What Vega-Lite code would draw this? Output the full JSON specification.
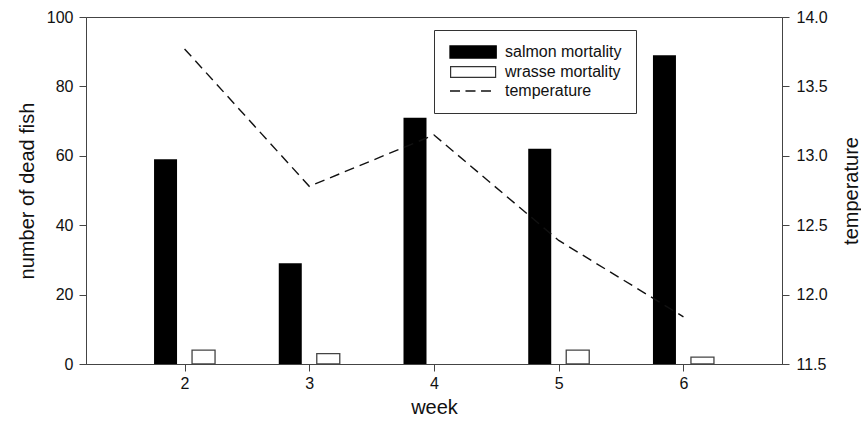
{
  "$schema": "https://vega.github.io/schema/vega-lite/v6.json",
  "width": 696,
  "height": 347,
  "autosize": {"type": "none"},
  "padding": {"left": 86, "top": 17, "right": 79, "bottom": 58},
  "background": "white",
  "config": {
    "font": "Liberation Sans",
    "view": {"stroke": "#444", "strokeWidth": 1},
    "axis": {
      "grid": false,
      "domainColor": "#444",
      "tickColor": "#444",
      "tickSize": 7,
      "labelFontSize": 16,
      "labelColor": "#111",
      "titleFontSize": 20,
      "titleFontWeight": "normal",
      "titleColor": "#111",
      "labelFont": "Liberation Sans",
      "titleFont": "Liberation Sans"
    },
    "legend": {
      "labelFont": "Liberation Sans",
      "labelFontSize": 16,
      "labelColor": "#111"
    }
  },
  "data": {
    "values": [
      {"week": 2, "salmon": 59, "wrasse": 4, "temperature": 13.77},
      {"week": 3, "salmon": 29, "wrasse": 3, "temperature": 12.78},
      {"week": 4, "salmon": 71, "wrasse": null, "temperature": 13.15},
      {"week": 5, "salmon": 62, "wrasse": 4, "temperature": 12.39},
      {"week": 6, "salmon": 89, "wrasse": 2, "temperature": 11.84}
    ]
  },
  "encoding": {
    "x": {
      "field": "week",
      "type": "quantitative",
      "scale": {"domain": [1.25, 6.75], "nice": false, "zero": false},
      "axis": {"values": [2, 3, 4, 5, 6], "format": "d", "title": "week", "labelPadding": 4, "titlePadding": 6}
    }
  },
  "layer": [
    {
      "layer": [
        {
          "mark": {"type": "bar", "width": 23, "xOffset": -19},
          "encoding": {
            "y": {
              "field": "salmon",
              "type": "quantitative",
              "title": "number of dead fish",
              "scale": {"domain": [0, 100], "nice": false},
              "axis": {"values": [0, 20, 40, 60, 80, 100], "labelPadding": 6, "titlePadding": 9}
            },
            "color": {
              "datum": "salmon mortality",
              "type": "nominal",
              "scale": {"domain": ["salmon mortality", "wrasse mortality", "temperature"], "range": ["black", "#333333", "#111111"]},
              "legend": {
                "title": null,
                "orient": "none",
                "legendX": 348,
                "legendY": 13,
                "padding": 14,
                "strokeColor": "#333",
                "fillColor": "white",
                "symbolSize": 144,
                "labelOffset": 41,
                "rowPadding": 3,
                "encode": {
                  "symbols": {
                    "update": {
                      "shape": {"signal": "datum.value === 'temperature' ? 'M-1,0H0.67M1.58,0H3.25M4.17,0H5.83' : datum.value === 'wrasse mortality' ? 'M-1,-1H6.7V1H-1ZM-0.8,-0.8V0.8H6.5V-0.8Z' : 'M-1,-1H6.7V1H-1Z'"},
                      "strokeWidth": {"signal": "datum.value === 'wrasse mortality' ? 0 : 1.3"},
                      "opacity": {"value": 1}
                    }
                  }
                }
              }
            }
          }
        },
        {
          "mark": {"type": "bar", "width": 23, "xOffset": 19, "stroke": "#444", "strokeWidth": 1.3},
          "encoding": {
            "y": {"field": "wrasse", "type": "quantitative", "title": "number of dead fish"},
            "color": {"datum": "wrasse mortality", "type": "nominal"},
            "fill": {"value": "white"}
          }
        }
      ]
    },
    {
      "mark": {"type": "line", "strokeDash": [10, 6], "strokeWidth": 1.4},
      "encoding": {
        "y": {
          "field": "temperature",
          "type": "quantitative",
          "scale": {"domain": [11.5, 14], "nice": false, "zero": false},
          "axis": {"orient": "right", "values": [11.5, 12, 12.5, 13, 13.5, 14], "format": ".1f", "title": "temperature", "titleAngle": -90, "titleX": 69, "titleY": 173.5, "titleAlign": "center", "titleBaseline": "middle", "labelPadding": 7}
        },
        "color": {"datum": "temperature", "type": "nominal"}
      }
    }
  ],
  "resolve": {"scale": {"y": "independent"}}
}
